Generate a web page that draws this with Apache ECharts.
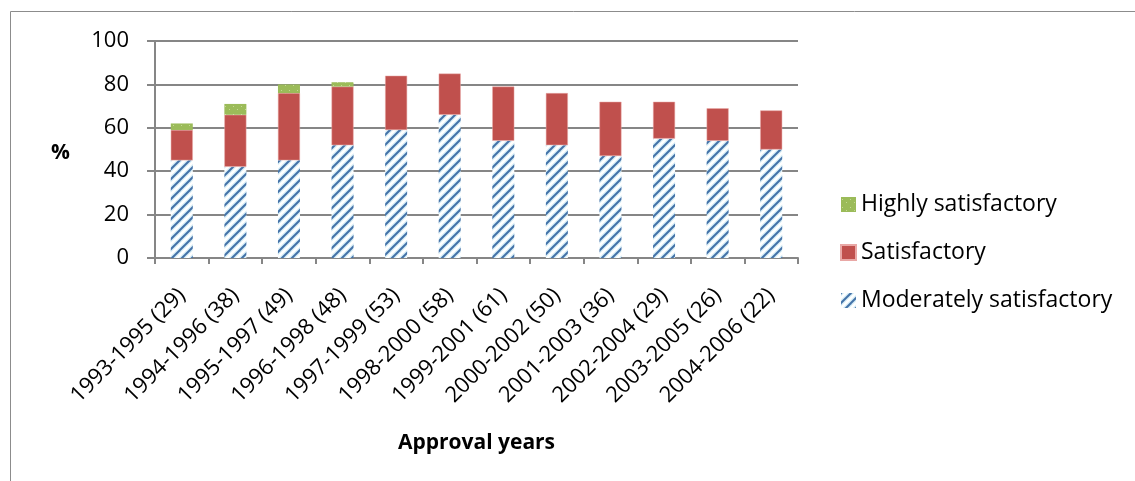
<!DOCTYPE html>
<html>
<head>
<meta charset="utf-8">
<script src="https://cdn.jsdelivr.net/npm/echarts@6/dist/echarts.min.js"></script>
<style>
  html, body { margin: 0; padding: 0; background: #fff; }
  #chart { width: 1135px; height: 481px; }
</style>
</head>
<body>
<div id="chart"></div>
<script>
var categories = ['1993-1995 (29)', '1994-1996 (38)', '1995-1997 (49)', '1996-1998 (48)',
  '1997-1999 (53)', '1998-2000 (58)', '1999-2001 (61)', '2000-2002 (50)',
  '2001-2003 (36)', '2002-2004 (29)', '2003-2005 (26)', '2004-2006 (22)'];
var moderate = [45, 42, 45, 52, 59, 66, 54, 52, 47, 55, 54, 50];
var satisfactory = [14, 24, 31, 27, 25, 19, 25, 24, 25, 17, 15, 18];
var highly = [3, 5, 4, 2, 0, 0, 0, 0, 0, 0, 0, 0];
var yTicks = [0, 20, 40, 60, 80, 100];

// diagonal stripe tile for the "moderately" series
function stripeTile() {
  var c = document.createElement('canvas');
  c.width = 10; c.height = 10;
  var ctx = c.getContext('2d');
  ctx.fillStyle = '#ffffff';
  ctx.fillRect(0, 0, 10, 10);
  var segs = [[-5, 5, 5, -5], [0, 10, 10, 0], [5, 15, 15, 5]];
  [['#d6eef7', 4.5], ['#4472a8', 2]].forEach(function (s) {
    ctx.strokeStyle = s[0];
    ctx.lineWidth = s[1];
    segs.forEach(function (p) {
      ctx.beginPath(); ctx.moveTo(p[0], p[1]); ctx.lineTo(p[2], p[3]); ctx.stroke();
    });
  });
  return c;
}

// speckled green tile
function speckTile() {
  var c = document.createElement('canvas');
  c.width = 8; c.height = 8;
  var ctx = c.getContext('2d');
  ctx.fillStyle = '#9bbb59';
  ctx.fillRect(0, 0, 8, 8);
  ctx.fillStyle = '#c4da93';
  ctx.fillRect(1, 2, 1, 1);
  ctx.fillRect(5, 5, 1, 1);
  return c;
}

var font = '"Open Sans", "Noto Sans", sans-serif';
var chart = echarts.init(document.getElementById('chart'));
chart.setOption({
  animation: false,
  textStyle: { fontFamily: font },
  graphic: [{
    type: 'rect',
    shape: { x: 10.5, y: 11.5, width: 1300, height: 600 },
    style: { fill: 'none', stroke: '#8c8c8c', lineWidth: 1 },
    silent: true
  }, {
    type: 'text',
    left: 51,
    top: 143,
    style: { text: '%', fontSize: 21, fontWeight: 'bold', fill: '#000', fontFamily: font }
  }],
  grid: { left: 155, right: 337, top: 41, bottom: 223 },
  legend: {
    orient: 'vertical',
    left: 835,
    top: 188,
    icon: 'rect',
    itemWidth: 15,
    itemHeight: 15,
    itemGap: 25,
    data: ['Highly satisfactory', 'Satisfactory', 'Moderately satisfactory'],
    textStyle: { fontSize: 23, color: '#000', fontFamily: font }
  },
  xAxis: {
    type: 'category',
    data: categories,
    name: 'Approval years',
    nameLocation: 'middle',
    nameGap: 175,
    nameTextStyle: { fontSize: 21, fontWeight: 'bold', color: '#000' },
    axisLine: { lineStyle: { color: '#868686', width: 2 } },
    axisTick: { show: true, length: 6, lineStyle: { color: '#868686', width: 2 } },
    axisLabel: { rotate: 45, fontSize: 22, color: '#000', margin: 34, interval: 0 }
  },
  yAxis: {
    type: 'value',
    min: 0,
    max: 100,
    interval: 20,
    axisLine: { show: true, lineStyle: { color: '#868686', width: 2 } },
    axisTick: { show: true, length: 8, lineStyle: { color: '#868686', width: 2 } },
    axisLabel: {
      fontSize: 22, color: '#000', margin: 26,
      formatter: function (v) { return yTicks.indexOf(v) >= 0 ? String(v) : ''; }
    },
    splitLine: { lineStyle: { color: '#868686', width: 2 } }
  },
  series: [{
    name: 'Moderately satisfactory',
    type: 'bar',
    stack: 'total',
    barWidth: 22,
    data: moderate,
    itemStyle: { color: { image: stripeTile(), repeat: 'repeat' } }
  }, {
    name: 'Satisfactory',
    type: 'bar',
    stack: 'total',
    barWidth: 22,
    data: satisfactory,
    itemStyle: { color: '#c0504d', borderColor: '#e9a8a6', borderWidth: 0.5 }
  }, {
    name: 'Highly satisfactory',
    type: 'bar',
    stack: 'total',
    barWidth: 22,
    data: highly,
    itemStyle: { color: { image: speckTile(), repeat: 'repeat' } }
  }]
});
</script>
</body>
</html>
